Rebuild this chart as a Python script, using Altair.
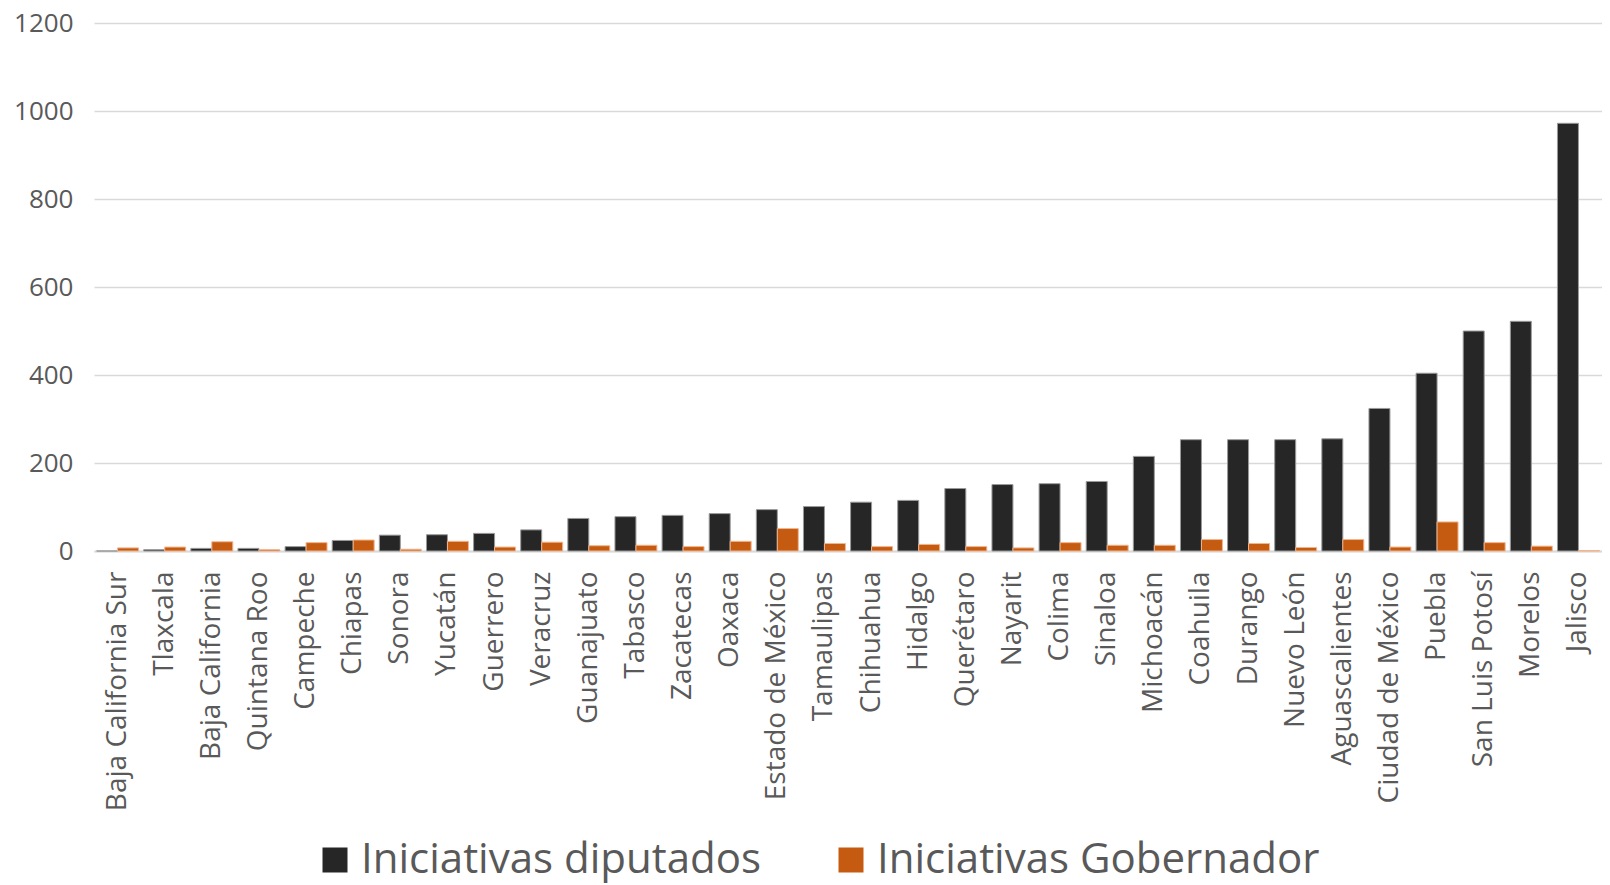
import altair as alt
import pandas as pd

states = ["Baja California Sur", "Tlaxcala", "Baja California", "Quintana Roo", "Campeche",
          "Chiapas", "Sonora", "Yucatán", "Guerrero", "Veracruz", "Guanajuato", "Tabasco",
          "Zacatecas", "Oaxaca", "Estado de México", "Tamaulipas", "Chihuahua", "Hidalgo",
          "Querétaro", "Nayarit", "Colima", "Sinaloa", "Michoacán", "Coahuila", "Durango",
          "Nuevo León", "Aguascalientes", "Ciudad de México", "Puebla", "San Luis Potosí",
          "Morelos", "Jalisco"]
diputados = [0, 3, 6, 6, 10, 24, 36, 37, 40, 48, 74, 78, 81, 85, 94, 101, 111, 115, 142,
             151, 153, 158, 215, 253, 253, 253, 255, 324, 404, 500, 522, 972]
gobernador = [7, 9, 21, 3, 19, 25, 4, 22, 9, 20, 12, 13, 10, 22, 51, 17, 10, 15, 10, 7,
              19, 13, 13, 26, 17, 8, 26, 9, 66, 19, 11, 1]
series = ["Iniciativas diputados", "Iniciativas Gobernador"]
y_ticks = [0, 200, 400, 600, 800, 1000, 1200]

rows = []
for s, d, g in zip(states, diputados, gobernador):
    rows.append({"estado": s, "serie": series[0], "valor": d})
    rows.append({"estado": s, "serie": series[1], "valor": g})
df = pd.DataFrame(rows)

FONT = "'Open Sans', sans-serif"

chart = alt.Chart(df).mark_bar(strokeWidth=1).encode(
    x=alt.X("estado:N", sort=states,
            scale=alt.Scale(paddingInner=0.11, paddingOuter=0.055),
            axis=alt.Axis(title=None, labelAngle=-90, labelAlign="right", labelBaseline="middle",
                          labelPadding=20, labelFontSize=28, labelColor="#595959", labelFont=FONT,
                          labelLimit=400, ticks=False, domainColor="#D9D9D9", domainWidth=2)),
    xOffset=alt.XOffset("serie:N", sort=series),
    y=alt.Y("valor:Q", scale=alt.Scale(domain=[0, 1200], nice=False),
            axis=alt.Axis(title=None, values=y_ticks, format="d", labelFontSize=26,
                          labelColor="#595959", labelFont=FONT, labelPadding=21, ticks=False,
                          domain=False, gridColor="#D9D9D9", gridWidth=1.5)),
    color=alt.Color("serie:N", sort=series,
                    scale=alt.Scale(domain=series, range=["#262626", "#C55A11"]),
                    legend=alt.Legend(title=None, orient="none", direction="horizontal",
                                      legendX=220, legendY=816, symbolType="square",
                                      symbolSize=625, symbolStrokeWidth=0,
                                      labelFontSize=42, labelColor="#595959", labelFont=FONT,
                                      labelOffset=5, columnPadding=68, padding=0,
                                      labelLimit=600)),
    stroke=alt.Stroke("serie:N", sort=series,
                      scale=alt.Scale(domain=series, range=["#9a9a9a", "#f2b48c"]),
                      legend=None),
).properties(
    width=1508, height=528,
    autosize=alt.AutoSizeParams(type="none"),
    padding={"left": 86, "top": 15, "right": 0, "bottom": 334},
).configure_view(stroke=None)

chart.save("out.html", embed_options={"renderer": "svg", "actions": False})
